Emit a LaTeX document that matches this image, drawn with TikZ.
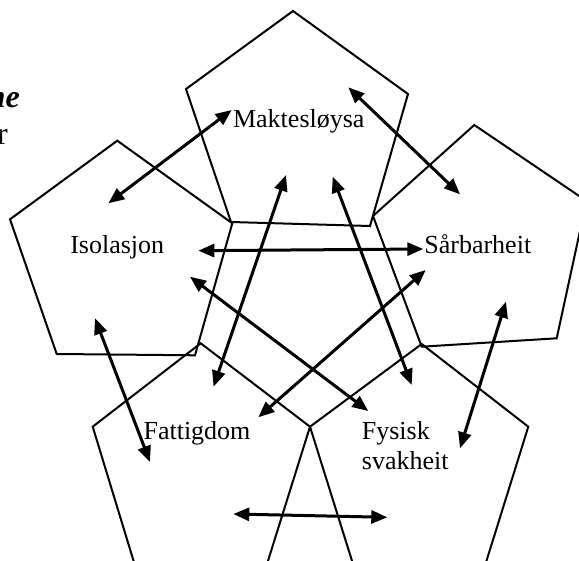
\documentclass[tikz,border=0pt]{standalone}
\usepackage{fontspec}
\setmainfont{Liberation Serif}
\usetikzlibrary{arrows.meta}
\begin{document}
\begin{tikzpicture}[x=1pt,y=-1pt,
  pent/.style={draw=black, line width=2pt, line join=miter},
  link/.style={line width=3pt, {Triangle[length=16pt,width=13pt]}-{Triangle[length=16pt,width=13pt]}},
  lbl/.style={inner sep=0pt, font=\fontsize{26}{30}\selectfont},
  ttl/.style={inner sep=0pt, font=\fontsize{32}{37}\selectfont}]
\useasboundingbox (0,0) rectangle (579,561);
\clip (0,0) rectangle (579,561);
% pentagons
\draw[pent] (293,11) -- (408,94) -- (370,226) -- (231,222) -- (186,89) -- cycle;
\draw[pent] (117.3,140.7) -- (232.3,223.3) -- (195,355.3) -- (56.7,354) -- (10,219.3) -- cycle;
\draw[pent] (474.3,125) -- (586.5,201) -- (556.7,338.3) -- (421.7,346.7) -- (373,216) -- cycle;
\draw[pent] (200.7,343.3) -- (310,426.7) -- (262,580) -- (139.4,580) -- (92.7,426.7) -- cycle;
\draw[pent] (421.7,344) -- (528.3,426.7) -- (480.5,580) -- (358,580) -- (310,426.7) -- cycle;
% labels
\node[lbl, anchor=base] (mak) at (298.8,128) {Maktesløysa};
\node[lbl, anchor=base] (iso) at (117.2,254) {Isolasjon};
\node[lbl, anchor=base] (sar) at (477.8,254) {Sårbarheit};
\node[lbl, anchor=base] (fat) at (197,440) {Fattigdom};
\node[lbl, anchor=base west, align=left] (fys) at (361.7,470) {Fysisk\\svakheit};
\node[ttl, anchor=base east, font=\fontsize{32}{37}\selectfont\bfseries\itshape] (t1) at (20,108) {me};
\node[ttl, anchor=base east] (t2) at (8,145) {r};
% arrow ends
\coordinate (a1s) at (108.3,203.3); \coordinate (a1e) at (231.7,110);
\coordinate (a2s) at (348.3,87.3);  \coordinate (a2e) at (460,194.3);
\coordinate (a3s) at (198.3,250.7); \coordinate (a3e) at (423.3,249);
\coordinate (a4s) at (286,175);     \coordinate (a4e) at (213.5,386.7);
\coordinate (a5s) at (332.7,176.7); \coordinate (a5e) at (411.7,385);
\coordinate (a6s) at (190,276.7);   \coordinate (a6e) at (368.3,411);
\coordinate (a7s) at (425.7,270);   \coordinate (a7e) at (258.3,417.3);
\coordinate (a8s) at (95,318.3);    \coordinate (a8e) at (150,462);
\coordinate (a9s) at (506,301.7);   \coordinate (a9e) at (460,448.3);
\coordinate (a10s) at (233.3,514);  \coordinate (a10e) at (387.3,517.3);
\draw[link] (a1s) -- (a1e);
\draw[link] (a2s) -- (a2e);
\draw[link] (a3s) -- (a3e);
\draw[link] (a4s) -- (a4e);
\draw[link] (a5s) -- (a5e);
\draw[link] (a6s) -- (a6e);
\draw[link] (a7s) -- (a7e);
\draw[link] (a8s) -- (a8e);
\draw[link] (a9s) -- (a9e);
\draw[link] (a10s) -- (a10e);
\end{tikzpicture}
\end{document}
